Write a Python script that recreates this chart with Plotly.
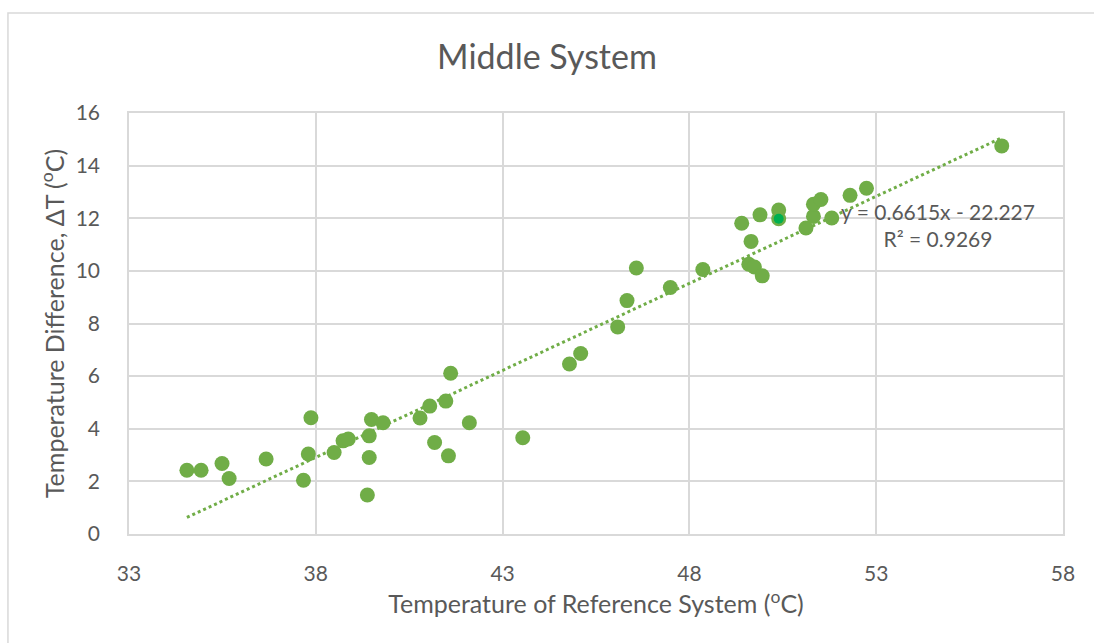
import plotly.graph_objects as go

# Reference-system temperature (°C) and measured temperature difference ΔT (°C)
ref_temp = [34.55, 34.93, 35.49, 35.68, 36.67, 37.87, 37.80, 37.67, 38.49, 38.73,
            38.87, 39.49, 39.80, 39.43, 39.43, 39.38, 40.79, 41.05, 41.48, 41.61,
            41.18, 41.55, 42.11, 43.54, 44.79, 45.09, 46.08, 46.33, 46.58, 47.49,
            48.36, 49.40, 49.89, 50.39, 50.39, 49.65, 49.59, 49.74, 49.95, 51.12,
            51.32, 51.32, 51.52, 51.81, 52.30, 52.74, 56.36]
delta_t = [2.42, 2.42, 2.68, 2.11, 2.85, 4.42, 3.04, 2.04, 3.10, 3.54,
           3.61, 4.35, 4.23, 3.73, 2.91, 1.48, 4.41, 4.86, 5.05, 6.11,
           3.48, 2.97, 4.23, 3.66, 6.46, 6.86, 7.87, 8.87, 10.11, 9.37,
           10.05, 11.81, 12.13, 12.31, 11.98, 11.12, 10.25, 10.15, 9.81, 11.63,
           12.07, 12.53, 12.71, 12.01, 12.87, 13.14, 14.75]

# Highlighted point
hi_x = [50.39]
hi_y = [11.98]

# Linear trendline as stated in the label
slope = 0.6615
intercept = -22.227
r_squared = 0.9269
trend_x = [min(ref_temp), max(ref_temp)]
trend_y = [slope * x + intercept for x in trend_x]

x_ticks = [33, 38, 43, 48, 53, 58]
y_ticks = [0, 2, 4, 6, 8, 10, 12, 14, 16]

GREEN = "#70AD47"
TEXT = "#595959"
GRID = "#D9D9D9"
FONT = "Lato, 'Open Sans', sans-serif"

fig = go.Figure()
fig.add_trace(go.Scatter(
    x=trend_x, y=trend_y, mode="lines",
    line=dict(color=GREEN, width=3, dash="dot"),
    hoverinfo="skip", showlegend=False,
))
fig.add_trace(go.Scatter(
    x=ref_temp, y=delta_t, mode="markers",
    marker=dict(color=GREEN, size=15, line=dict(width=0)),
    showlegend=False,
))
fig.add_trace(go.Scatter(
    x=hi_x, y=hi_y, mode="markers",
    marker=dict(color="#00B050", size=10, line=dict(width=0)),
    showlegend=False,
))

fig.add_annotation(
    x=54.66, y=11.74, xref="x", yref="y",
    text=f"y = {slope}x - {abs(intercept)}<br>R² = {r_squared}",
    showarrow=False, align="center",
    font=dict(family=FONT, size=21, color=TEXT),
)

# Outer chart border
fig.add_shape(type="rect", xref="paper", yref="paper",
              x0=-0.1296, x1=1.045, y0=-0.30, y1=1.2375,
              line=dict(color=GRID, width=1.5), fillcolor="rgba(0,0,0,0)",
              layer="below")

fig.update_layout(
    width=1094, height=643,
    margin=dict(l=129, r=31, t=113, b=109),
    paper_bgcolor="white", plot_bgcolor="white",
    font=dict(family=FONT, color=TEXT),
    title=dict(text="Middle System", x=0.5, xanchor="center",
               y=1 - 57 / 643, yanchor="middle",
               font=dict(family=FONT, size=34, color=TEXT)),
    xaxis=dict(
        range=[33, 58], tickvals=x_ticks, ticktext=[str(v) for v in x_ticks],
        showgrid=True, gridcolor=GRID, gridwidth=1.5,
        showline=True, linecolor=GRID, linewidth=1.5, mirror=True,
        zeroline=False, ticks="", ticklabelstandoff=20,
        tickfont=dict(family=FONT, size=21, color=TEXT),
        title=dict(text="Temperature of Reference System (<sup>o</sup>C)",
                   standoff=12, font=dict(family=FONT, size=25, color=TEXT)),
    ),
    yaxis=dict(
        range=[0, 16], tickvals=y_ticks, ticktext=[str(v) for v in y_ticks],
        showgrid=True, gridcolor=GRID, gridwidth=1.5,
        showline=True, linecolor=GRID, linewidth=1.5, mirror=True,
        zeroline=False, ticks="", ticklabelstandoff=23,
        tickfont=dict(family=FONT, size=21, color=TEXT),
        title=dict(text="Temperature Difference, ΔT (<sup>o</sup>C)",
                   standoff=4, font=dict(family=FONT, size=25, color=TEXT)),
    ),
)

fig.write_html("out.html")
